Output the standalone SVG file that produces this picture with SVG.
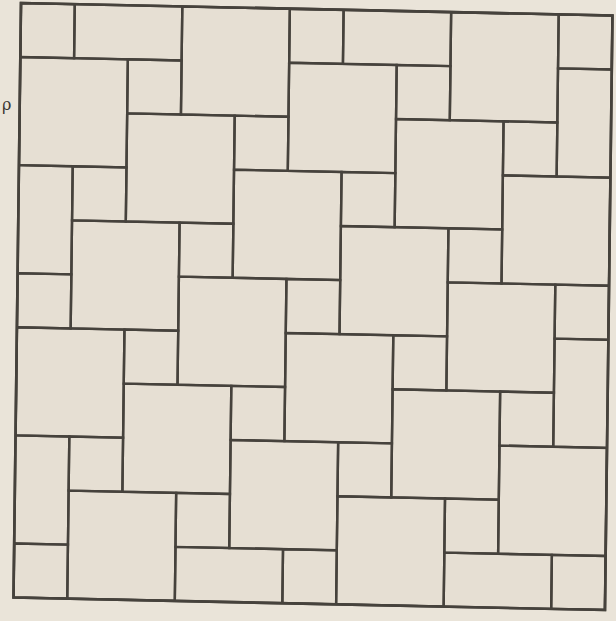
<svg xmlns="http://www.w3.org/2000/svg" width="616" height="621" viewBox="0 0 616 621">
<style>
.t{fill:none;stroke:#46423c;stroke-width:2.4;vector-effect:non-scaling-stroke}
.frame{fill:#e6dfd3;stroke:#46423c;stroke-width:2.6;vector-effect:non-scaling-stroke}
.lbl{font-family:"DejaVu Serif","Liberation Serif",serif;font-size:16px;fill:#3a3632}
</style>
<defs>
<clipPath id="c"><rect x="0" y="0" width="11" height="11"/></clipPath>
</defs>
<rect x="0" y="0" width="616" height="621" fill="#eae4d9"/>
<text class="lbl" x="2" y="110">ρ</text>
<g transform="matrix(53.77 1.136 -0.682 54.05 21 3)">
<rect class="frame" x="0" y="0" width="11" height="11"/>
<g clip-path="url(#c)">
<g id="large">
<rect class="t" x="1" y="-1" width="2" height="2"/>
<rect class="t" x="6" y="-1" width="2" height="2"/>
<rect class="t" x="3" y="0" width="2" height="2"/>
<rect class="t" x="8" y="0" width="2" height="2"/>
<rect class="t" x="0" y="1" width="2" height="2"/>
<rect class="t" x="5" y="1" width="2" height="2"/>
<rect class="t" x="10" y="1" width="2" height="2"/>
<rect class="t" x="2" y="2" width="2" height="2"/>
<rect class="t" x="7" y="2" width="2" height="2"/>
<rect class="t" x="-1" y="3" width="2" height="2"/>
<rect class="t" x="4" y="3" width="2" height="2"/>
<rect class="t" x="9" y="3" width="2" height="2"/>
<rect class="t" x="1" y="4" width="2" height="2"/>
<rect class="t" x="6" y="4" width="2" height="2"/>
<rect class="t" x="3" y="5" width="2" height="2"/>
<rect class="t" x="8" y="5" width="2" height="2"/>
<rect class="t" x="0" y="6" width="2" height="2"/>
<rect class="t" x="5" y="6" width="2" height="2"/>
<rect class="t" x="10" y="6" width="2" height="2"/>
<rect class="t" x="2" y="7" width="2" height="2"/>
<rect class="t" x="7" y="7" width="2" height="2"/>
<rect class="t" x="-1" y="8" width="2" height="2"/>
<rect class="t" x="4" y="8" width="2" height="2"/>
<rect class="t" x="9" y="8" width="2" height="2"/>
<rect class="t" x="1" y="9" width="2" height="2"/>
<rect class="t" x="6" y="9" width="2" height="2"/>
<rect class="t" x="3" y="10" width="2" height="2"/>
<rect class="t" x="8" y="10" width="2" height="2"/>
</g>
<g id="small">
<rect class="t" x="0" y="0" width="1" height="1"/>
<rect class="t" x="5" y="0" width="1" height="1"/>
<rect class="t" x="10" y="0" width="1" height="1"/>
<rect class="t" x="2" y="1" width="1" height="1"/>
<rect class="t" x="7" y="1" width="1" height="1"/>
<rect class="t" x="4" y="2" width="1" height="1"/>
<rect class="t" x="9" y="2" width="1" height="1"/>
<rect class="t" x="1" y="3" width="1" height="1"/>
<rect class="t" x="6" y="3" width="1" height="1"/>
<rect class="t" x="3" y="4" width="1" height="1"/>
<rect class="t" x="8" y="4" width="1" height="1"/>
<rect class="t" x="0" y="5" width="1" height="1"/>
<rect class="t" x="5" y="5" width="1" height="1"/>
<rect class="t" x="10" y="5" width="1" height="1"/>
<rect class="t" x="2" y="6" width="1" height="1"/>
<rect class="t" x="7" y="6" width="1" height="1"/>
<rect class="t" x="4" y="7" width="1" height="1"/>
<rect class="t" x="9" y="7" width="1" height="1"/>
<rect class="t" x="1" y="8" width="1" height="1"/>
<rect class="t" x="6" y="8" width="1" height="1"/>
<rect class="t" x="3" y="9" width="1" height="1"/>
<rect class="t" x="8" y="9" width="1" height="1"/>
<rect class="t" x="0" y="10" width="1" height="1"/>
<rect class="t" x="5" y="10" width="1" height="1"/>
<rect class="t" x="10" y="10" width="1" height="1"/>
</g>
</g>
<rect x="0" y="0" width="11" height="11" fill="none" stroke="#46423c" stroke-width="2.6" vector-effect="non-scaling-stroke"/>
</g>
</svg>
